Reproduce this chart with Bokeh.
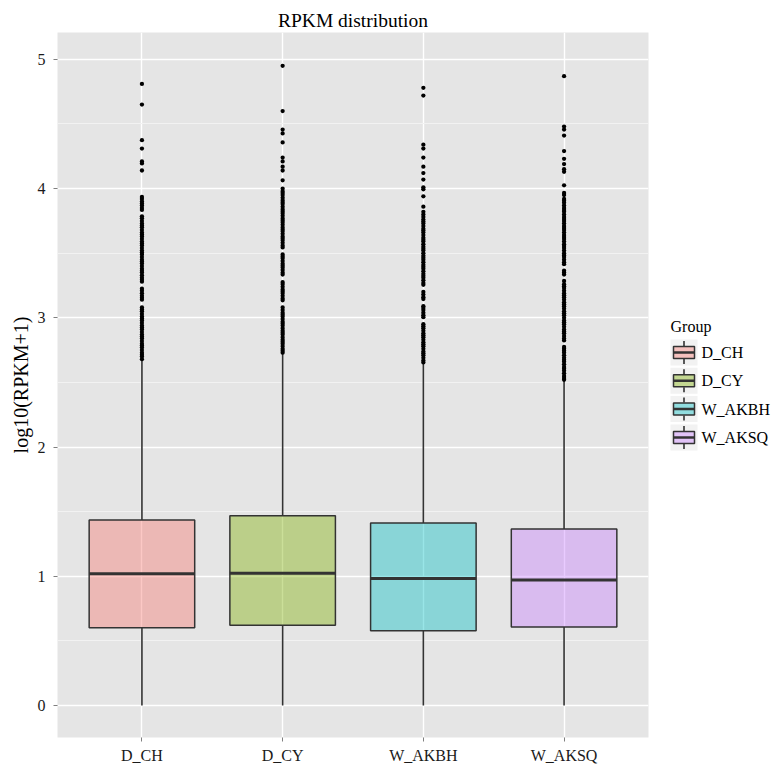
from bokeh.plotting import figure
from bokeh.models import FactorRange, Range1d, FixedTicker
from bokeh.layouts import row
from bokeh.embed import file_html
from bokeh.resources import INLINE
from bokeh.core.properties import value

# ---------------- data ----------------
groups = ["D_CH", "D_CY", "W_AKBH", "W_AKSQ"]
q1 = [0.602, 0.620, 0.579, 0.607]
median = [1.019, 1.024, 0.982, 0.970]
q3 = [1.435, 1.468, 1.412, 1.366]
whisker_low = [0.0, 0.0, 0.0, 0.0]
whisker_high = [2.67, 2.72, 2.645, 2.51]

outliers_D_CH = [
    4.81, 4.65, 4.375, 4.31, 4.21, 4.195, 4.14,
    2.68, 2.70, 2.715, 2.73, 2.75, 2.77, 2.785, 2.80, 2.82, 2.84, 2.855, 2.87,
    2.89, 2.91, 2.925, 2.94, 2.96, 2.98, 2.995, 3.01, 3.03, 3.05, 3.065, 3.08,
    3.14, 3.155, 3.17, 3.19, 3.21, 3.225, 3.28, 3.295, 3.31, 3.33, 3.35, 3.365,
    3.38, 3.40, 3.42, 3.435, 3.45, 3.47, 3.49, 3.505, 3.52, 3.54, 3.56, 3.575,
    3.59, 3.61, 3.63, 3.645, 3.66, 3.68, 3.70, 3.715, 3.73, 3.75, 3.77, 3.785,
    3.835, 3.85, 3.87, 3.885, 3.90, 3.92, 3.935,
]
outliers_D_CY = [
    4.95, 4.60, 4.457, 4.427, 4.357, 4.24, 4.21, 4.17, 4.14, 4.064,
    2.73, 2.745, 2.76, 2.78, 2.80, 2.815, 2.83, 2.85, 2.87, 2.885, 2.90, 2.92,
    2.94, 2.955, 2.97, 2.99, 3.01, 3.025, 3.04, 3.06, 3.08, 3.135, 3.15, 3.17,
    3.19, 3.205, 3.22, 3.24, 3.26, 3.275, 3.335, 3.35, 3.37, 3.39, 3.405, 3.42,
    3.44, 3.46, 3.475, 3.49, 3.545, 3.56, 3.58, 3.60, 3.615, 3.63, 3.65, 3.67,
    3.685, 3.70, 3.72, 3.74, 3.755, 3.77, 3.79, 3.81, 3.825, 3.84, 3.86, 3.88,
    3.895, 3.91, 3.93, 3.95, 3.965, 3.98, 4.00,
]
outliers_W_AKBH = [
    4.78, 4.72, 4.34, 4.31, 4.24, 4.17, 4.12, 4.07, 4.01, 3.995, 3.94, 3.86,
    2.655, 2.67, 2.69, 2.71, 2.725, 2.74, 2.76, 2.78, 2.795, 2.81, 2.83, 2.85,
    2.865, 2.88, 2.90, 2.92, 2.935, 2.95, 3.005, 3.02, 3.04, 3.06, 3.075, 3.09,
    3.145, 3.16, 3.18, 3.20, 3.255, 3.27, 3.29, 3.31, 3.325, 3.34, 3.36, 3.38,
    3.395, 3.41, 3.43, 3.45, 3.465, 3.48, 3.50, 3.52, 3.535, 3.55, 3.57, 3.59,
    3.605, 3.62, 3.64, 3.66, 3.675, 3.69, 3.71, 3.73, 3.745, 3.76, 3.78, 3.80, 3.82,
]
outliers_W_AKSQ = [
    4.87, 4.48, 4.457, 4.41, 4.29, 4.23, 4.19, 4.15, 4.13, 4.025, 3.966, 3.95,
    2.52, 2.535, 2.55, 2.57, 2.59, 2.605, 2.62, 2.64, 2.66, 2.675, 2.69, 2.71,
    2.73, 2.745, 2.76, 2.775, 2.825, 2.84, 2.86, 2.88, 2.895, 2.91, 2.93, 2.95,
    2.965, 2.98, 3.00, 3.02, 3.035, 3.05, 3.07, 3.09, 3.105, 3.12, 3.14, 3.16,
    3.175, 3.19, 3.21, 3.23, 3.245, 3.26, 3.285, 3.335, 3.35, 3.365, 3.415, 3.43,
    3.45, 3.47, 3.485, 3.50, 3.52, 3.54, 3.555, 3.57, 3.59, 3.61, 3.625, 3.64,
    3.66, 3.68, 3.695, 3.71, 3.73, 3.75, 3.765, 3.78, 3.80, 3.82, 3.835, 3.85,
    3.87, 3.89, 3.905, 3.92,
]
y_ticks = [0, 1, 2, 3, 4, 5]
y_minor_ticks = [0.5, 1.5, 2.5, 3.5, 4.5]

title_text = "RPKM distribution"
y_label = "log10(RPKM+1)"
legend_title = "Group"

# ---------------- styles ----------------
colors = ["#F8766D", "#7CAE00", "#00BFC4", "#C77CFF"]
FONT = "Liberation Serif"
DARK = "#333333"

out_x, out_y = [], []
for g, vals in zip(groups, [outliers_D_CH, outliers_D_CY, outliers_W_AKBH, outliers_W_AKSQ]):
    out_x += [g] * len(vals)
    out_y += vals

# ---------------- main plot ----------------
p = figure(
    width=652, height=768,
    x_range=FactorRange(*groups, range_padding=0.1, range_padding_units="absolute"),
    y_range=Range1d(-0.248, 5.208),
    output_backend="svg", toolbar_location=None,
    min_border_left=57, min_border_right=4, min_border_top=32, min_border_bottom=31,
    title=title_text,
)
p.background_fill_color = "#E5E5E5"
p.border_fill_color = "white"
p.outline_line_color = None

p.title.align = "center"
p.title.text_font = FONT
p.title.text_font_size = "19.5px"
p.title.text_font_style = "normal"
p.title.text_color = "black"
p.title.standoff = 4

p.yaxis.ticker = FixedTicker(ticks=y_ticks, minor_ticks=y_minor_ticks)
for ax in (p.xaxis, p.yaxis):
    ax.axis_line_color = None
    ax.major_tick_line_color = "#7F7F7F"
    ax.major_tick_out = 4
    ax.major_tick_in = 0
    ax.minor_tick_line_color = None
    ax.major_label_text_font = FONT
    ax.major_label_text_font_size = "16px"
    ax.major_label_text_color = "#1A1A1A"
p.xaxis.major_label_standoff = 5
p.yaxis.major_label_standoff = 8
p.yaxis.axis_label = y_label
p.yaxis.axis_label_text_font = FONT
p.yaxis.axis_label_text_font_size = "20px"
p.yaxis.axis_label_text_font_style = "normal"
p.yaxis.axis_label_text_color = "black"
p.yaxis.axis_label_standoff = 3

p.xgrid.grid_line_color = "white"
p.xgrid.grid_line_width = 1.4
p.ygrid.grid_line_color = "white"
p.ygrid.grid_line_width = 1.4
p.ygrid.minor_grid_line_color = "#F2F2F2"
p.ygrid.minor_grid_line_width = 1

# whiskers
p.segment(x0=groups, y0=q3, x1=groups, y1=whisker_high, line_color=DARK, line_width=1.6)
p.segment(x0=groups, y0=q1, x1=groups, y1=whisker_low, line_color=DARK, line_width=1.6)
# boxes
p.vbar(x=groups, top=q3, bottom=q1, width=0.75, fill_color=colors, fill_alpha=0.4,
       line_color=DARK, line_width=1.5)
# medians
p.rect(x=groups, y=median, width=0.75, height=3, height_units="screen",
       fill_color=DARK, line_color=None)
# outliers
p.scatter(x=out_x, y=out_y, size=4.3, fill_color="black", line_color=None)

# ---------------- legend ----------------
# frame of this figure is aligned with the main frame (top 32, height 705)
unit = 28.3
frame_top, frame_h = 32, 705
key_y = list(range(len(groups)))[::-1]
y_top = (len(groups) - 1) + (352 - frame_top) / unit
lg = figure(
    width=120, height=768,
    x_range=Range1d(0, 120), y_range=Range1d(y_top - frame_h / unit, y_top),
    output_backend="svg", toolbar_location=None,
    x_axis_type=None, y_axis_type=None,
    min_border_left=0, min_border_right=0, min_border_top=32, min_border_bottom=31,
)
lg.outline_line_color = None
lg.background_fill_color = "white"
lg.border_fill_color = "white"
lg.xgrid.visible = False
lg.ygrid.visible = False

key_x = [31.5] * len(groups)
lg.rect(x=key_x, y=key_y, width=27, height=26, width_units="screen", height_units="screen",
        fill_color="#F2F2F2", line_color=None)
hb = 6.5 / unit
ht = 11.5 / unit
lg.segment(x0=key_x, x1=key_x, y0=[v + hb for v in key_y], y1=[v + ht for v in key_y],
           line_color=DARK, line_width=1.6)
lg.segment(x0=key_x, x1=key_x, y0=[v - hb for v in key_y], y1=[v - ht for v in key_y],
           line_color=DARK, line_width=1.6)
lg.rect(x=key_x, y=key_y, width=21, height=12, width_units="screen", height_units="screen",
        fill_color=colors, fill_alpha=0.4, line_color=DARK, line_width=1.5)
lg.rect(x=key_x, y=key_y, width=21, height=2.5, width_units="screen", height_units="screen",
        fill_color=DARK, line_color=None)
lg.text(x=[49] * len(groups), y=key_y, text=groups, text_baseline="middle", text_align="left",
        text_font=value(FONT), text_font_size="16px", text_color="black")
lg.text(x=[18], y=[(len(groups) - 1) + 26 / unit], text=[legend_title], text_baseline="middle",
        text_align="left", text_font=value(FONT), text_font_size="16px", text_color="black")

layout = row(p, lg)
open("out.html", "w").write(file_html(layout, INLINE))
